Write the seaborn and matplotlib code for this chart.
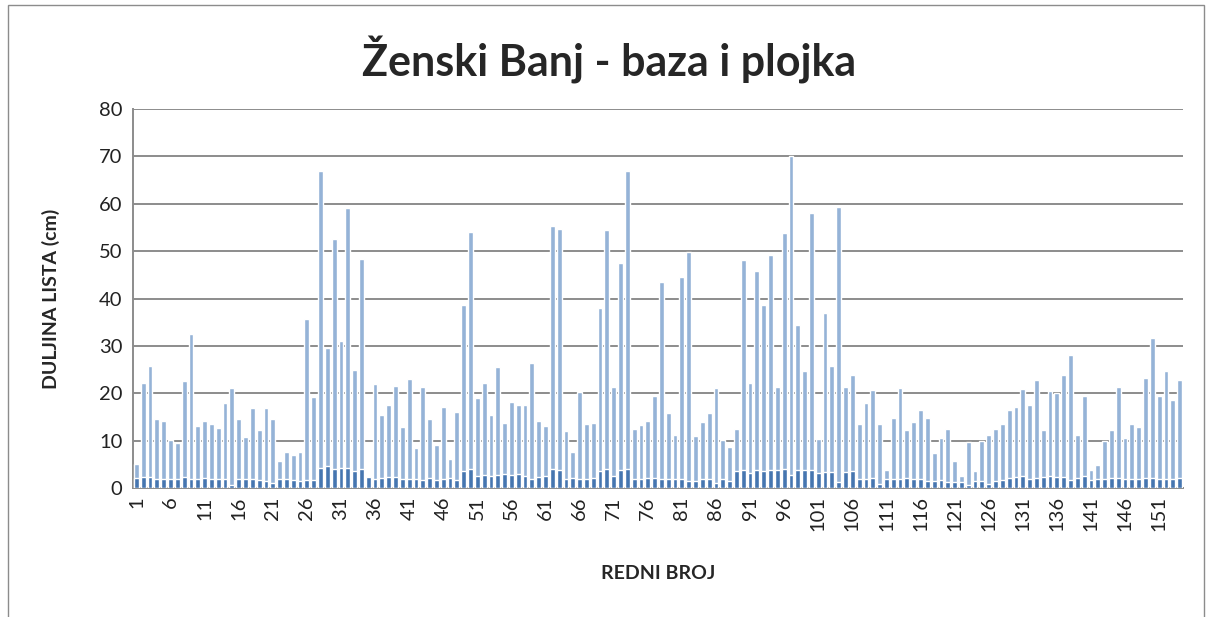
import numpy as np
import pandas as pd
import seaborn as sns
import matplotlib.pyplot as plt
from matplotlib.patches import Rectangle

# ukupna duljina lista (baza + plojka), cm
ukupno = [5.1, 22.1, 25.8, 14.5, 14.2, 10.1, 9.4, 22.6, 32.5, 13.0,
          14.2, 13.5, 12.6, 18.0, 21.1, 14.5, 10.8, 16.8, 12.3, 16.8,
          14.6, 5.6, 7.7, 7.0, 7.6, 35.7, 19.3, 67.0, 29.6, 52.5,
          31.0, 59.2, 24.9, 48.3, 2.3, 22.0, 15.5, 17.6, 21.6, 12.8,
          23.0, 8.4, 21.4, 14.6, 9.0, 17.0, 6.1, 16.1, 38.7, 54.0,
          19.1, 22.2, 15.4, 25.5, 13.8, 18.2, 17.5, 17.5, 26.3, 14.2,
          13.0, 55.4, 54.6, 12.1, 7.5, 20.3, 13.6, 13.7, 38.0, 54.4,
          21.3, 47.4, 67.0, 12.5, 13.2, 14.2, 19.5, 43.4, 15.8, 11.1,
          44.5, 49.9, 11.0, 13.9, 15.9, 21.2, 10.1, 8.7, 12.4, 48.2,
          22.2, 45.8, 38.6, 49.1, 21.4, 53.8, 70.0, 34.4, 24.7, 58.0,
          10.3, 37.0, 25.8, 59.4, 21.3, 23.8, 13.5, 18.0, 20.7, 13.6,
          3.8, 14.8, 21.1, 12.2, 13.9, 16.5, 14.7, 7.3, 10.6, 12.5,
          5.7, 2.6, 9.8, 3.6, 10.0, 11.1, 12.5, 13.5, 16.4, 17.0,
          20.8, 17.5, 22.7, 12.2, 20.5, 20.0, 23.9, 28.1, 11.2, 19.4,
          3.9, 4.8, 9.9, 12.3, 21.3, 10.5, 13.5, 12.9, 23.3, 31.7,
          19.4, 24.7, 18.6, 22.9]

# duljina baze, cm
baza = [2.2, 2.3, 2.4, 2.0, 2.0, 2.0, 1.8, 2.3, 2.0, 2.0,
        2.2, 2.0, 1.8, 2.0, 0.6, 1.8, 1.8, 1.8, 1.6, 1.5,
        1.1, 1.9, 1.8, 1.7, 1.5, 1.7, 1.7, 4.3, 4.6, 4.1,
        4.2, 4.2, 3.5, 4.1, 2.3, 2.0, 2.2, 2.3, 2.3, 1.9,
        1.9, 2.0, 1.7, 2.2, 1.7, 1.9, 2.2, 1.7, 3.6, 4.0,
        2.5, 2.7, 2.5, 2.7, 3.0, 2.7, 3.0, 2.5, 1.9, 2.3,
        2.5, 4.1, 3.8, 2.0, 2.1, 1.9, 1.9, 2.1, 3.6, 4.1,
        2.5, 3.9, 4.0, 1.9, 1.9, 2.1, 2.1, 1.9, 2.0, 1.9,
        2.0, 1.5, 1.5, 1.8, 2.0, 1.1, 1.8, 1.5, 3.5, 3.7,
        3.2, 3.7, 3.5, 3.8, 3.9, 4.1, 2.7, 3.7, 3.8, 3.9,
        3.2, 3.4, 3.4, 1.3, 3.4, 3.6, 1.9, 2.0, 2.2, 0.8,
        2.0, 2.0, 1.9, 2.2, 1.8, 2.0, 1.5, 1.5, 1.7, 1.3,
        1.3, 1.3, 0.6, 1.5, 1.5, 0.8, 1.5, 1.7, 2.2, 2.4,
        2.6, 2.0, 2.2, 2.4, 2.5, 2.4, 2.3, 1.7, 2.2, 2.5,
        1.7, 2.0, 1.9, 2.1, 2.2, 1.9, 1.8, 1.9, 2.2, 2.2,
        2.0, 1.9, 1.9, 2.2]

redni_broj = list(range(1, len(ukupno) + 1))
plojka = [u - b for u, b in zip(ukupno, baza)]

df = pd.DataFrame({'redni_broj': redni_broj, 'baza': baza,
                   'plojka': plojka, 'ukupno': ukupno})

sns.set_style('white')
plt.rcParams['font.family'] = ['Lato', 'DejaVu Sans']

fig = plt.figure(figsize=(12.11, 6.17), dpi=100)
ax = fig.add_axes([133 / 1211, 1 - 488 / 617, 1050 / 1211, 379 / 617])

sns.barplot(data=df, x='redni_broj', y='ukupno', color='#95b3d7',
            saturation=1, width=0.7, ax=ax, zorder=3)
sns.barplot(data=df, x='redni_broj', y='baza', color='#4676b0',
            saturation=1, width=0.7, ax=ax, zorder=4)

ax.set_ylim(0, 80)
ax.set_yticks(range(0, 81, 10))
ax.yaxis.grid(True, color='#8c8c8c', linewidth=1.4, zorder=0)
ax.set_axisbelow(True)

pos = list(range(0, len(redni_broj), 5))
ax.set_xticks(pos)
ax.set_xticklabels([str(redni_broj[p]) for p in pos], rotation=90)
ax.set_xlim(-0.5, len(redni_broj) - 0.5)
ax.tick_params(axis='both', labelsize=14.5, colors='#222222', length=4,
               direction='out', width=1, color='#8c8c8c')
ax.tick_params(axis='x', length=0, pad=6)

for s in ['top', 'right']:
    ax.spines[s].set_visible(False)
for s in ['left', 'bottom']:
    ax.spines[s].set_color('#8c8c8c')
    ax.spines[s].set_linewidth(1.4)

ax.set_xlabel('REDNI BROJ', fontsize=14, fontweight='bold', labelpad=24)
ax.set_ylabel('DULJINA LISTA (cm)', fontsize=14, fontweight='bold', labelpad=28)
fig.text(0.503, 1 - 60 / 617, 'Ženski Banj - baza i plojka', ha='center',
         va='center', fontsize=31, fontweight='bold')

fig.patches.append(Rectangle((8 / 1211, -0.02), 1196 / 1211, 1.02 - 5 / 617,
                             transform=fig.transFigure, fill=False,
                             edgecolor='#8c8c8c', linewidth=1))

fig.savefig('out.png', dpi=100)
